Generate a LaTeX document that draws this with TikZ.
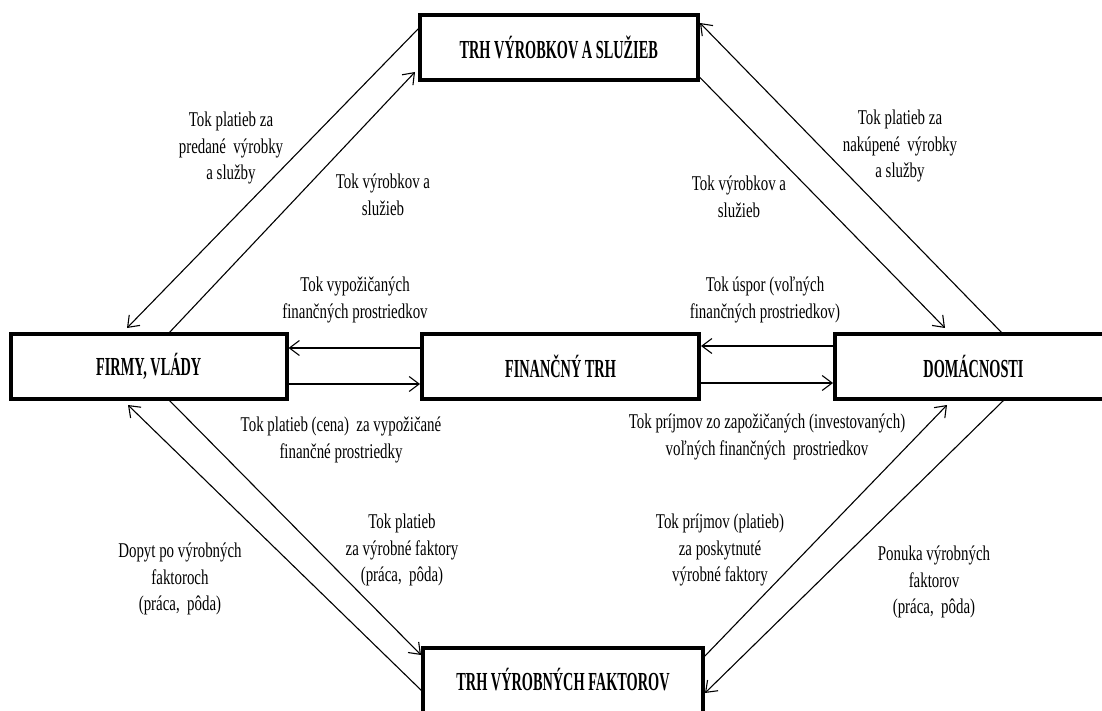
\documentclass[tikz,border=0pt]{standalone}
\usepackage{fontspec}
\setmainfont{Liberation Serif}[FakeStretch=0.71]
\newfontfamily\boxfont{Liberation Serif}[FakeStretch=0.55]
\usetikzlibrary{calc,arrows.meta}
\begin{document}
\begin{tikzpicture}[x=1pt,y=-1pt,
  market/.style={draw,line width=4pt,outer sep=0pt,inner sep=0pt,fill=white,
    font=\boxfont\bfseries\fontsize{26}{30}\selectfont},
  flow/.style={line width=1.1pt,-{Straight Barb[length=10pt,width=15pt,line width=1.1pt]}},
  lbl/.style={inner sep=0pt,align=center,font=\fontsize{21}{26.5}\selectfont}]
\useasboundingbox (0,0) rectangle (1102,711);
\clip (0,0) rectangle (1102,711);
\fill[white] (0,0) rectangle (1102,711);

\node[market,minimum width=277.5pt,minimum height=64.5pt] (top) at (558.75,47.75) {TRH VÝROBKOV A SLUŽIEB};
\node[market,minimum width=275.5pt,minimum height=65pt] (firmy) at (148.75,366.5) {FIRMY, VLÁDY};
\node[market,minimum width=277pt,minimum height=65pt] (fin) at (560.5,366.5) {FINANČNÝ TRH};
\node[market,minimum width=277pt,minimum height=65pt] (dom) at (973.5,366.5) {DOMÁCNOSTI};
\node[market,minimum width=280pt,minimum height=65pt] (bot) at (563,680) {TRH VÝROBNÝCH FAKTOROV};

% top-left pair
\draw[flow] ($(top.north west)+(0,11.5)$) -- ($(firmy.north west)+(116,-6)$);
\draw[flow] ($(firmy.north west)+(157,0)$) -- ($(top.south west)+(-5,-8)$);
% top-right pair
\draw[flow] ($(dom.north west)+(168,0)$) -- ($(top.north east)+(2.5,7.5)$);
\draw[flow] ($(top.south east)+(0,-5)$) -- ($(dom.north west)+(110,-6)$);
% horizontal
\draw[flow] ($(fin.north west)+(0,14)$) -- ($(firmy.north east)+(2,14)$);
\draw[flow] ($(firmy.south east)+(0,-15)$) -- ($(fin.south west)+(-2,-15)$);
\draw[flow] ($(dom.north west)+(0,12)$) -- ($(fin.north east)+(2,12)$);
\draw[flow] ($(fin.south east)+(0,-16)$) -- ($(dom.south west)+(-2,-16)$);
% bottom-left pair
\draw[flow] ($(firmy.south west)+(157,0)$) -- ($(bot.north west)+(-2,7.5)$);
\draw[flow] ($(bot.north west)+(0,44.5)$) -- ($(firmy.south west)+(117,6)$);
% bottom-right pair
\draw[flow] ($(bot.north east)+(0,10.5)$) -- ($(dom.south west)+(112,6)$);
\draw[flow] ($(dom.south west)+(170,0)$) -- ($(bot.north east)+(2,45.5)$);

% labels
\node[lbl] (l1) at (231,148) {Tok platieb za\\predané~ výrobky\\a služby};
\node[lbl] (l2) at (383,195) {Tok výrobkov a\\služieb};
\node[lbl] (l3) at (355,300) {Tok vypožičaných\\finančných prostriedkov};
\node[lbl] (l4) at (900,146) {Tok platieb za\\nakúpené~ výrobky\\a služby};
\node[lbl] (l5) at (739,197) {Tok výrobkov a\\služieb};
\node[lbl] (l6) at (765,300) {Tok úspor (voľných\\finančných prostriedkov)};
\node[lbl] (l7) at (341,440) {Tok platieb (cena)~ za vypožičané\\finančné prostriedky};
\node[lbl] (l8) at (767,437) {Tok príjmov zo zapožičaných (investovaných)\\voľných finančných~ prostriedkov};
\node[lbl] (l9) at (402,550) {Tok platieb\\za výrobné faktory\\(práca,~ pôda)};
\node[lbl] (l10) at (180,579) {Dopyt po výrobných\\faktoroch\\(práca,~ pôda)};
\node[lbl] (l11) at (720,550) {Tok príjmov (platieb)\\za poskytnuté\\výrobné faktory};
\node[lbl] (l12) at (934,582) {Ponuka výrobných\\faktorov\\(práca,~ pôda)};
\end{tikzpicture}
\end{document}
